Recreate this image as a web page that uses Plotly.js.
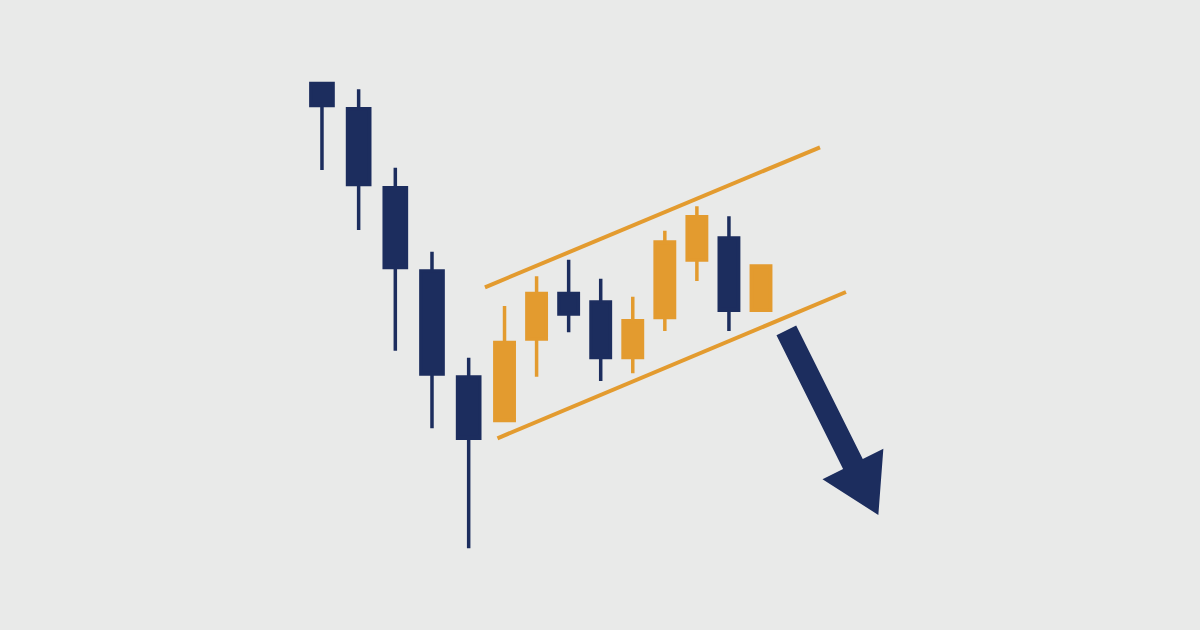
<!DOCTYPE html>
<html>
<head>
<meta charset="utf-8">
<script src="https://cdn.plot.ly/plotly-3.0.1.min.js"></script>
<style>
html,body{margin:0;padding:0;background:#e9eae9;}
#chart{width:1200px;height:630px;}
</style>
</head>
<body>
<div id="chart"></div>
<script>
// Sharp decline (the "pole")
const poleIdx   = [1, 2, 3, 4, 5];
const poleOpen  = [54.66, 52.13, 44.23, 35.90, 25.30];
const poleHigh  = [54.66, 54.07, 46.23, 37.83, 27.23];
const poleLow   = [46.00, 40.00, 27.93, 20.17, 8.17];
const poleClose = [52.44, 44.54, 36.24, 25.60, 19.17];

// Upward-sloping consolidation (the "flag")
const flagIdx   = [6, 7, 8, 9, 10, 11, 12, 13, 14];
const flagOpen  = [20.94, 29.10, 33.66, 32.80, 27.24, 31.24, 37.00, 39.20, 31.97];
const flagHigh  = [32.40, 35.37, 37.03, 35.13, 33.33, 39.93, 42.37, 41.37, 36.40];
const flagLow   = [20.94, 25.33, 29.77, 24.90, 25.67, 29.90, 34.90, 29.90, 31.97];
const flagClose = [28.76, 33.66, 31.60, 27.24, 30.93, 38.80, 41.33, 31.97, 36.40];

// Channel lines
const upperX = [5.39, 15.84];
const upperY = [34.27, 48.27];
const lowerX = [5.78, 16.65];
const lowerY = [19.17, 33.80];

// Breakdown arrow (tail -> tip), in flag-axis / price units
const arrowTail = [14.79, 29.97];
const arrowTip  = [17.66, 11.50];

const NAVY = '#1c2d5e';
const ORANGE = '#e39b2f';
const BG = '#e9eae9';

const candleStyle = {
  increasing: {line: {color: ORANGE, width: 3.5}, fillcolor: ORANGE},
  decreasing: {line: {color: NAVY, width: 3.5}, fillcolor: NAVY},
  whiskerwidth: 0,
  hoverinfo: 'skip'
};

const traces = [
  Object.assign({
    type: 'candlestick', x: poleIdx, open: poleOpen, high: poleHigh, low: poleLow, close: poleClose,
    xaxis: 'x', yaxis: 'y'
  }, candleStyle),
  Object.assign({
    type: 'candlestick', x: flagIdx, open: flagOpen, high: flagHigh, low: flagLow, close: flagClose,
    xaxis: 'x2', yaxis: 'y'
  }, candleStyle),
  {type: 'scatter', mode: 'lines', x: upperX, y: upperY, xaxis: 'x2', yaxis: 'y',
   line: {color: ORANGE, width: 4}, hoverinfo: 'skip'},
  {type: 'scatter', mode: 'lines', x: lowerX, y: lowerY, xaxis: 'x2', yaxis: 'y',
   line: {color: ORANGE, width: 4}, hoverinfo: 'skip'}
];

const hidden = {visible: false, showgrid: false, zeroline: false, fixedrange: true};

const layout = {
  width: 1200, height: 630,
  margin: {l: 0, r: 0, t: 0, b: 0, pad: 0},
  paper_bgcolor: BG, plot_bgcolor: BG,
  showlegend: false,
  hovermode: false,
  boxgap: 0.395, boxgroupgap: 0,
  xaxis: Object.assign({range: [-7.779, 24.941], rangeslider: {visible: false}}, hidden),
  xaxis2: Object.assign({range: [-9.737, 27.693], overlaying: 'x', rangeslider: {visible: false}}, hidden),
  yaxis: Object.assign({range: [0, 63]}, hidden)
};

// Arrow style (pixels)
const SHAFT_W = 22, HEAD_W = 68, HEAD_L = 57;

Plotly.newPlot('chart', traces, layout, {staticPlot: true, displayModeBar: false}).then(function (gd) {
  const xa = gd._fullLayout.xaxis2, ya = gd._fullLayout.yaxis;
  const tx = xa.l2p(arrowTail[0]), ty = ya.l2p(arrowTail[1]);
  const hx = xa.l2p(arrowTip[0]),  hy = ya.l2p(arrowTip[1]);
  const len = Math.hypot(hx - tx, hy - ty);
  const ux = (hx - tx) / len, uy = (hy - ty) / len;
  const nx = -uy, ny = ux;
  const bx = hx - ux * HEAD_L, by = hy - uy * HEAD_L;
  const pts = [
    [tx + nx * SHAFT_W / 2, ty + ny * SHAFT_W / 2],
    [bx + nx * SHAFT_W / 2, by + ny * SHAFT_W / 2],
    [bx + nx * HEAD_W / 2,  by + ny * HEAD_W / 2],
    [hx, hy],
    [bx - nx * HEAD_W / 2,  by - ny * HEAD_W / 2],
    [bx - nx * SHAFT_W / 2, by - ny * SHAFT_W / 2],
    [tx - nx * SHAFT_W / 2, ty - ny * SHAFT_W / 2]
  ];
  // offsets relative to the tip; pixel-mode y is measured upward
  const path = 'M' + pts.map(p => (p[0] - hx).toFixed(2) + ',' + (hy - p[1]).toFixed(2)).join('L') + 'Z';
  return Plotly.relayout(gd, {
    shapes: [{
      type: 'path', xref: 'x2', yref: 'y',
      xsizemode: 'pixel', ysizemode: 'pixel',
      xanchor: arrowTip[0], yanchor: arrowTip[1],
      path: path, fillcolor: NAVY, line: {width: 0}, layer: 'above'
    }]
  });
});
</script>
</body>
</html>
